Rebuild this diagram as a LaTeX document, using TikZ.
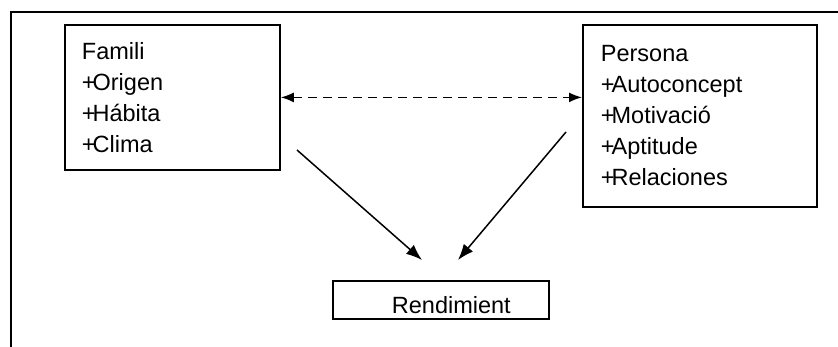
\documentclass[tikz,border=0pt]{standalone}
\usepackage{fontspec}
\setmainfont{Liberation Sans}
\usetikzlibrary{arrows.meta,positioning}

% tight plus in front of each attribute
\newcommand{\attr}[1]{+\kern-3pt#1}

\begin{document}
\begin{tikzpicture}[x=1pt, y=-1pt,
  box/.style={draw, line width=1.8pt, rectangle, anchor=north west, align=left,
    inner ysep=0pt, font=\fontsize{23.5}{31}\selectfont},
  link/.style={-{Latex[length=16pt,width=12pt]}, line width=1.5pt}]

\useasboundingbox (0,0) rectangle (838,347);

% frame
\draw[line width=1.8pt] (11,347) -- (11,12) -- (838,12);

% boxes
\node[box, text width=181pt, inner xsep=17pt, minimum height=145pt] (famili) at (64,24)
  {Famili\\\attr{Origen}\\\attr{Hábita}\\\attr{Clima}};
\node[box, text width=198pt, inner xsep=18pt, minimum height=182pt] (persona) at (582,24)
  {Persona\\\attr{Autoconcept}\\\attr{Motivació}\\\attr{Aptitude}\\\attr{Relaciones}};
\node[box, text width=216pt, inner xsep=0pt, text height=33pt, text depth=5pt] (rendim) at (332,280)
  {\hspace*{59pt}Rendimient};

% arrow ends
\coordinate (fa) at (297,150);
\coordinate (pa) at (566,132);
\coordinate (ra) at (422,260);
\coordinate (rb) at (458,260);

\draw[link, line width=1.6pt, {Latex[length=13pt,width=10pt]}-{Latex[length=13pt,width=10pt]}, dash pattern=on 9pt off 6pt]
  (famili.east) -- (famili.east -| persona.west);
\draw[link] (fa) -- (ra);
\draw[link] (pa) -- (rb);

\end{tikzpicture}
\end{document}
